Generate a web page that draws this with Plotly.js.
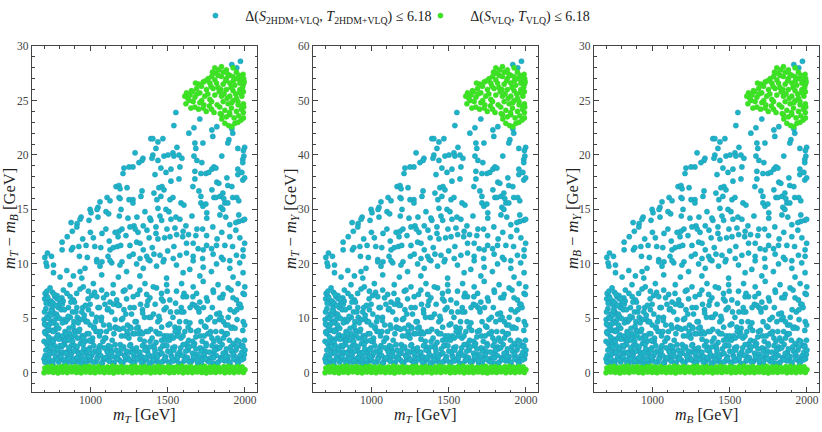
<!DOCTYPE html>
<html>
<head>
<meta charset="utf-8">
<script src="https://cdn.plot.ly/plotly-3.0.1.min.js"></script>
<style>
  html, body { margin: 0; padding: 0; background: #fff; }
  #chart { width: 822px; height: 432px; }
</style>
</head>
<body>
<div id="chart"></div>
<script>
// each point: [m_T (or m_B) GeV, m_T - m_B (= m_B - m_Y) GeV, m_T - m_Y GeV]
var cyanHigh = [
  [1971,28.6,57.2],[1915,28.3,56.6],[1947,28.0,56.0],[1553,23.9,47.8],[1540,22.7,45.4],[1708,23.3,46.6],
  [1670,22.5,45.0],[1637,22.0,44.0],[1786,22.3,44.6],[1792,21.7,43.4],[1818,22.6,45.2],[1915,22.4,44.8],
  [1921,22.0,44.0],[1896,21.4,42.8],[1391,21.5,43.0],[1404,21.5,43.0],[1469,21.5,43.0],[1437,21.2,42.4],
  [1424,20.6,41.2],[1560,20.7,41.4],[1676,21.1,42.2],[1682,20.6,41.2],[1728,21.1,42.2],[1889,21.1,42.2],
  [1998,20.7,41.4],[1990,20.4,40.8],[1954,20.6,41.2],[1289,20.2,40.4],[1340,19.7,39.4],[1334,19.5,39.0],
  [1404,20.0,40.0],[1398,19.7,39.4],[1476,19.9,39.8],[1502,20.0,40.0],[1534,20.2,40.4],[1540,19.9,39.8],
  [1573,20.0,40.0],[1592,19.7,39.4],[1670,19.9,39.8],[1689,19.5,39.0],[1721,19.3,38.6],[1850,19.9,39.8],
  [1993,19.9,39.8],[1986,19.6,39.2],[1986,19.3,38.6],[1275,18.9,37.8],[1250,18.9,37.8],[1217,18.8,37.6],
  [1211,18.3,36.6],[1314,19.3,38.6],[1437,19.5,39.0],[1456,18.8,37.6],[1489,18.4,36.8],[1418,18.2,36.4],
  [1521,18.7,37.4],[1521,17.6,35.2],[1579,18.9,37.8],[1573,17.8,35.6],[1676,18.5,37.0],[1676,17.8,35.6],
  [1715,18.3,36.6],[1747,18.3,36.6],[1766,18.4,36.8],[1786,18.7,37.4],[1799,18.9,37.8],[1812,18.8,37.6],
  [1818,17.5,35.0],[1831,17.4,34.8],[1883,17.9,35.8],[1889,17.2,34.4],[1915,17.1,34.2],[1954,18.7,37.4],
  [1954,18.2,36.4],[1980,18.4,36.8],[1986,17.7,35.4],[1998,17.9,35.8],[1166,17.1,34.2],[1185,17.2,34.4],
  [1192,16.9,33.8],[1185,16.1,32.2],[1237,17.0,34.0],[1334,16.7,33.4],[1327,16.2,32.4],[1250,15.9,31.8],
  [1275,15.9,31.8],[1275,15.6,31.2],[1192,16.0,32.0],[1198,15.0,30.0],[1108,16.1,32.2],[1127,15.8,31.6],
  [1062,15.7,31.4],[1049,15.2,30.4],[998,15.0,30.0],[1004,14.7,29.4],[940,14.3,28.6],[933,14.1,28.2],
  [875,13.8,27.6],[914,13.7,27.4],[991,14.0,28.0],[1043,15.0,30.0],[1101,14.8,29.6],[1353,14.8,29.6],
  [1411,16.5,33.0],[1430,15.9,31.8],[1443,17.0,34.0],[1463,17.1,34.2],[1476,16.8,33.6],[1437,15.1,30.2],
  [1489,15.0,30.0],[1508,14.8,29.6],[1456,16.2,32.4],[1515,15.9,31.8],[1534,16.1,32.2],[1586,15.6,31.2],
  [1605,15.4,30.8],[1553,14.3,28.6],[1663,17.1,34.2],[1702,16.7,33.4],[1715,16.2,32.4],[1715,15.6,31.2],
  [1728,15.3,30.6],[1747,15.5,31.0],[1753,14.7,29.4],[1786,16.8,33.6],[1799,16.1,32.2],[1812,16.1,32.2],
  [1838,16.2,32.4],[1857,16.5,33.0],[1863,16.0,32.0],[1870,15.6,31.2],[1844,15.2,30.4],[1857,15.0,30.0],
  [1889,15.6,31.2],[1921,16.1,32.2],[1947,16.1,32.2],[1960,15.8,31.6],[1960,14.5,29.0],[1986,14.0,28.0],
  [1998,14.1,28.2],[1960,13.9,27.8],[1941,13.8,27.6],[1547,13.3,26.6],[1579,14.1,28.2],[1618,13.5,27.0],
  [1657,14.4,28.8],[1689,13.2,26.4],[1753,14.2,28.4],[1792,13.4,26.8],[1838,14.5,29.0],[1876,14.3,28.6],
  [1902,13.6,27.2],[1204,13.2,26.4],[1243,14.2,28.4],[1185,13.0,26.0],[1282,13.5,27.0],[1301,14.3,28.6],
  [1366,13.1,26.2],[1391,14.0,28.0],[1424,13.4,26.8],[1450,14.4,28.8],[1495,13.2,26.4],[1521,14.1,28.2]
];

var cyanMid = [
  [705,10.6,21.2],[722,11.0,22.0],[748,10.7,21.4],[761,9.9,19.8],[718,9.8,19.6],[817,12.0,24.0],
  [817,11.3,22.6],[883,13.0,26.0],[877,11.3,22.6],[886,11.5,23.0],[929,10.7,21.4],[925,11.6,23.2],
  [972,11.7,23.4],[1019,12.4,24.8],[1028,11.6,23.2],[1067,11.5,23.0],[1075,12.8,25.6],[1122,12.1,24.2],
  [1127,11.3,22.6],[1148,11.5,23.0],[980,10.6,21.2],[1041,10.4,20.8],[1075,10.2,20.4],[1114,10.7,21.4],
  [1138,10.1,20.2],[1179,12.5,25.0],[1174,11.6,23.2],[1196,11.7,23.4],[1204,10.2,20.4],[1256,11.7,23.4],
  [1299,12.0,24.0],[1321,11.9,23.8],[1342,11.3,22.6],[1252,10.7,21.4],[1277,10.9,21.8],[1321,10.5,21.0],
  [1364,10.7,21.4],[1385,10.3,20.6],[1411,10.9,21.8],[1450,10.8,21.6],[1476,10.4,20.8],[1437,12.3,24.6],
  [1480,12.4,24.8],[1515,12.5,25.0],[1558,12.7,25.4],[1597,12.5,25.0],[1622,11.9,23.8],[1635,12.7,25.4],
  [1682,12.6,25.2],[1726,13.2,26.4],[1752,12.6,25.2],[1665,11.9,23.8],[1697,11.4,22.8],[1730,11.3,22.6],
  [1752,11.7,23.4],[1784,11.4,22.8],[1816,11.7,23.4],[1870,11.7,23.4],[1902,12.5,25.0],[1941,13.1,26.2],
  [1967,12.4,24.8],[1998,11.9,23.8],[1988,11.3,22.6],[1536,10.5,21.0],[1579,10.8,21.6],[1622,11.0,22.0],
  [1665,10.7,21.4],[1726,10.5,21.0],[1794,10.9,21.8],[1848,10.6,21.2],[1902,10.3,20.6],[1945,10.8,21.6],
  [1988,10.7,21.4],[912,13.4,26.8],[1049,14.3,28.6],[1118,14.6,29.2],[1187,14.4,28.8],[1256,13.4,26.8],
  [1308,12.9,25.8],[1342,13.5,27.0],[1385,14.2,28.4],[1424,12.8,25.6],[1461,14.0,28.0],[1000,12.9,25.8],
  [1160,12.9,25.8],[1230,12.6,25.2],[1380,12.4,24.8],[1400,11.5,23.0],[1540,11.6,23.2],[1600,13.0,26.0],
  [1850,12.9,25.8],[1920,11.6,23.2],[1820,12.3,24.6],[1500,11.2,22.4],[1100,13.2,26.4],[850,12.5,25.0],
  [950,12.3,24.6],[1290,13.2,26.4]
];

var cyanBand9 = [
  [713,10.1,20.2],[761,9.2,18.4],[804,8.8,17.6],[847,9.4,18.8],[890,8.9,17.8],[933,9.3,18.6],
  [944,8.7,17.4],[965,9.6,19.2],[1041,10.2,20.4],[1062,9.8,19.6],[1073,9.0,18.0],[1127,10.3,20.6],
  [1181,8.8,17.6],[1191,9.9,19.8],[1234,9.3,18.6],[1299,10.0,20.0],[1320,8.9,17.8],[1342,9.6,19.2],
  [1374,10.4,20.8],[1428,9.8,19.6],[1471,10.2,20.4],[1493,8.7,17.4],[1557,9.9,19.8],[1600,9.2,18.4],
  [1643,9.5,19.0],[1665,10.3,20.6],[1708,8.9,17.8],[1730,9.7,19.4],[1783,9.3,18.6],[1816,10.0,20.0],
  [1859,10.4,20.8],[1902,9.6,19.2],[1923,8.8,17.6],[1966,10.1,20.2],[1988,9.2,18.4]
];

var cyanBand7 = [
  [707,7.3,14.6],[739,7.8,15.6],[771,7.0,14.0],[825,7.6,15.2],[868,8.1,16.2],[911,7.3,14.6],
  [954,7.9,15.8],[987,7.5,15.0],[1019,8.2,16.4],[1041,7.0,14.0],[1073,7.6,15.2],[1105,7.2,14.4],
  [1148,8.1,16.2],[1170,6.7,13.4],[1213,7.5,15.0],[1256,7.9,15.8],[1277,7.0,14.0],[1320,7.6,15.2],
  [1353,8.2,16.4],[1385,6.9,13.8],[1428,7.8,15.6],[1460,7.3,14.6],[1493,8.1,16.2],[1514,6.7,13.4],
  [1557,7.5,15.0],[1590,8.2,16.4],[1622,7.0,14.0],[1665,7.9,15.8],[1687,7.3,14.6],[1730,8.4,16.8],
  [1751,6.9,13.8],[1794,7.6,15.2],[1826,8.1,16.2],[1859,7.2,14.4],[1891,7.8,15.6],[1923,6.9,13.8],
  [1956,8.2,16.4],[1988,7.3,14.6],[1999,7.9,15.8],[718,6.6,13.2],[815,6.9,13.8],[890,6.7,13.4],
  [1008,7.1,14.2],[1127,6.5,13.0],[1234,6.8,13.6],[1364,7.2,14.4],[1471,6.6,13.2],[1600,7.0,14.0],
  [1708,6.5,13.0],[1837,6.9,13.8],[1945,6.7,13.4],[720,7.0,14.0],[755,7.4,14.8],[785,6.8,13.6]
];

var cyanBand5 = [
  [701,4.9,9.8],[709,4.4,8.8],[718,5.1,10.2],[724,4.4,8.8],[733,5.4,10.8],[740,6.3,12.6],
  [749,4.7,9.4],[757,5.6,11.2],[766,5.4,10.8],[771,4.9,9.8],[780,5.4,10.8],[792,6.0,12.0],
  [799,6.3,12.6],[811,5.8,11.6],[818,6.3,12.6],[829,4.9,9.8],[840,4.7,9.4],[851,4.9,9.8],
  [858,6.0,12.0],[870,5.1,10.2],[884,5.6,11.2],[893,4.7,9.4],[906,5.6,11.2],[915,5.1,10.2],
  [929,4.9,9.8],[937,4.9,9.8],[950,6.0,12.0],[962,4.9,9.8],[971,4.7,9.4],[987,5.8,11.6],
  [998,6.3,12.6],[1009,5.4,10.8],[1024,4.2,8.4],[1033,4.7,9.4],[1049,6.0,12.0],[1058,6.0,12.0],
  [1072,5.1,10.2],[1086,4.4,8.8],[1094,6.3,12.6],[1110,5.8,11.6],[1121,4.4,8.8],[1137,5.6,11.2],
  [1149,6.3,12.6],[1160,4.9,9.8],[1176,6.3,12.6],[1188,6.2,12.4],[1201,4.9,9.8],[1217,5.8,11.6],
  [1229,5.4,10.8],[1240,4.4,8.8],[1258,4.2,8.4],[1266,5.4,10.8],[1283,6.0,12.0],[1297,4.7,9.4],
  [1309,4.2,8.4],[1324,6.3,12.6],[1337,5.8,11.6],[1350,5.1,10.2],[1366,6.2,12.4],[1379,5.1,10.2],
  [1391,5.1,10.2],[1408,5.4,10.8],[1419,6.3,12.6],[1436,4.7,9.4],[1448,4.9,9.8],[1461,4.2,8.4],
  [1477,5.8,11.6],[1490,6.0,12.0],[1503,4.4,8.8],[1518,5.6,11.2],[1534,5.1,10.2],[1547,4.2,8.4],
  [1560,5.6,11.2],[1577,4.7,9.4],[1588,6.0,12.0],[1604,5.6,11.2],[1619,4.7,9.4],[1633,4.2,8.4],
  [1645,6.0,12.0],[1660,6.3,12.6],[1676,6.2,12.4],[1689,6.0,12.0],[1703,5.6,11.2],[1716,4.7,9.4],
  [1732,6.0,12.0],[1747,4.2,8.4],[1760,4.9,9.8],[1776,5.1,10.2],[1789,6.0,12.0],[1805,4.7,9.4],
  [1817,5.4,10.8],[1834,4.9,9.8],[1846,5.1,10.2],[1861,4.7,9.4],[1875,4.4,8.8],[1890,4.4,8.8],
  [1904,5.8,11.6],[1919,4.2,8.4],[1931,5.6,11.2],[1948,5.8,11.6],[1960,6.3,12.6],[1975,6.0,12.0],
  [1989,4.7,9.4],[1998,4.4,8.8],[712,5.9,11.8],[730,5.0,10.0],[745,6.6,13.2],[762,4.6,9.2],
  [786,5.2,10.4],[703,5.6,11.2],[737,4.5,9.0],[752,5.9,11.8]
];

var cyanBand3 = [
  [700,2.9,5.8],[706,3.8,7.6],[715,2.7,5.4],[722,3.9,7.8],[729,2.9,5.8],[738,3.9,7.8],
  [744,2.7,5.4],[753,3.9,7.8],[760,2.9,5.8],[769,3.9,7.8],[777,3.2,6.4],[786,3.4,6.8],
  [795,4.1,8.2],[803,2.5,5.0],[810,3.2,6.4],[821,3.4,6.8],[830,2.9,5.8],[838,3.0,6.0],
  [849,3.4,6.8],[857,3.0,6.0],[866,3.6,7.2],[877,2.5,5.0],[885,2.9,5.8],[896,3.9,7.8],
  [905,3.8,7.6],[917,3.2,6.4],[925,3.8,7.6],[936,2.7,5.4],[946,3.0,6.0],[958,3.4,6.8],
  [967,2.9,5.8],[979,3.6,7.2],[990,3.6,7.2],[1001,2.9,5.8],[1014,3.2,6.4],[1023,4.1,8.2],
  [1036,3.8,7.6],[1047,3.8,7.6],[1059,3.4,6.8],[1068,3.8,7.6],[1081,2.9,5.8],[1093,3.2,6.4],
  [1104,3.8,7.6],[1117,2.5,5.0],[1128,4.1,8.2],[1141,3.0,6.0],[1152,3.6,7.2],[1165,4.1,8.2],
  [1177,4.1,8.2],[1188,4.0,8.0],[1201,3.4,6.8],[1213,4.1,8.2],[1226,3.4,6.8],[1238,3.8,7.6],
  [1249,3.2,6.4],[1263,4.1,8.2],[1274,3.6,7.2],[1287,3.6,7.2],[1299,4.1,8.2],[1312,3.6,7.2],
  [1324,3.8,7.6],[1337,3.6,7.2],[1349,2.9,5.8],[1361,3.8,7.6],[1374,3.8,7.6],[1386,2.9,5.8],
  [1399,3.2,6.4],[1411,2.5,5.0],[1424,3.8,7.6],[1436,3.6,7.2],[1449,3.6,7.2],[1461,3.0,6.0],
  [1474,2.5,5.0],[1486,3.0,6.0],[1499,3.4,6.8],[1511,3.0,6.0],[1524,3.4,6.8],[1536,3.2,6.4],
  [1549,3.8,7.6],[1561,3.4,6.8],[1574,4.1,8.2],[1586,3.2,6.4],[1599,3.4,6.8],[1611,3.8,7.6],
  [1624,2.7,5.4],[1636,3.0,6.0],[1649,3.9,7.8],[1661,2.9,5.8],[1674,2.7,5.4],[1686,3.8,7.6],
  [1699,3.9,7.8],[1711,3.4,6.8],[1724,2.9,5.8],[1736,3.4,6.8],[1749,2.7,5.4],[1761,3.6,7.2],
  [1774,3.6,7.2],[1786,3.2,6.4],[1799,2.9,5.8],[1811,3.8,7.6],[1824,3.2,6.4],[1836,2.9,5.8],
  [1849,3.8,7.6],[1861,3.2,6.4],[1874,3.6,7.2],[1886,3.6,7.2],[1899,3.0,6.0],[1911,4.1,8.2],
  [1924,2.7,5.4],[1936,4.1,8.2],[1949,3.0,6.0],[1961,2.9,5.8],[1974,2.5,5.0],[1986,2.5,5.0],
  [1997,3.0,6.0]
];

var cyanBand1 = [
  [700,1.3,2.6],[712,2.1,4.2],[721,0.9,1.8],[733,1.7,3.4],[742,2.4,4.8],[755,1.1,2.2],
  [763,1.9,3.8],[774,1.4,2.8],[786,2.2,4.4],[795,1.0,2.0],[807,1.6,3.2],[816,2.5,5.0],
  [828,1.2,2.4],[839,1.8,3.6],[848,0.9,1.8],[860,2.3,4.6],[871,1.5,3.0],[880,1.0,2.0],
  [893,2.0,4.0],[902,1.3,2.6],[914,2.4,4.8],[925,1.7,3.4],[934,1.1,2.2],[946,1.9,3.8],
  [957,2.2,4.4],[968,0.9,1.8],[979,1.5,3.0],[990,2.1,4.2],[1001,1.2,2.4],[1013,1.8,3.6],
  [1022,2.5,5.0],[1034,1.0,2.0],[1045,1.4,2.8],[1056,2.0,4.0],[1067,1.6,3.2],[1078,0.9,1.8],
  [1089,2.3,4.6],[1101,1.3,2.6],[1110,1.9,3.8],[1122,1.1,2.2],[1133,2.4,4.8],[1144,1.5,3.0],
  [1155,1.0,2.0],[1166,2.1,4.2],[1178,1.7,3.4],[1187,1.2,2.4],[1199,2.2,4.4],[1210,0.9,1.8],
  [1221,1.6,3.2],[1232,2.0,4.0],[1243,1.4,2.8],[1255,2.5,5.0],[1264,1.1,2.2],[1276,1.8,3.6],
  [1287,1.0,2.0],[1298,2.3,4.6],[1309,1.3,2.6],[1320,1.9,3.8],[1332,1.5,3.0],[1341,0.9,1.8],
  [1353,2.1,4.2],[1364,1.2,2.4],[1375,1.7,3.4],[1386,2.4,4.8],[1397,1.0,2.0],[1409,1.6,3.2],
  [1418,2.0,4.0],[1430,1.3,2.6],[1441,0.9,1.8],[1452,2.2,4.4],[1463,1.8,3.6],[1474,1.1,2.2],
  [1486,1.5,3.0],[1495,2.5,5.0],[1507,1.0,2.0],[1518,1.9,3.8],[1529,1.4,2.8],[1540,2.1,4.2],
  [1551,1.2,2.4],[1563,1.7,3.4],[1572,0.9,1.8],[1584,2.3,4.6],[1595,1.6,3.2],[1606,1.1,2.2],
  [1617,2.0,4.0],[1628,1.4,2.8],[1640,2.4,4.8],[1649,1.0,2.0],[1661,1.8,3.6],[1672,1.3,2.6],
  [1683,2.2,4.4],[1694,0.9,1.8],[1705,1.5,3.0],[1717,2.0,4.0],[1726,1.2,2.4],[1738,1.7,3.4],
  [1749,2.5,5.0],[1760,1.1,2.2],[1771,1.9,3.8],[1782,1.4,2.8],[1794,0.9,1.8],[1803,2.1,4.2],
  [1815,1.6,3.2],[1826,1.0,2.0],[1837,2.3,4.6],[1848,1.3,2.6],[1859,1.8,3.6],[1871,1.1,2.2],
  [1880,2.2,4.4],[1892,1.5,3.0],[1903,0.9,1.8],[1914,2.0,4.0],[1925,1.7,3.4],[1936,1.2,2.4],
  [1948,2.4,4.8],[1957,1.0,2.0],[1969,1.6,3.2],[1980,1.9,3.8],[1991,1.3,2.6],[2000,2.1,4.2],
  [705,1.0,2.0],[731,1.3,2.6],[757,0.8,1.6],[783,1.2,2.4],[809,1.5,3.0],[835,0.9,1.8],
  [861,1.3,2.6],[887,1.1,2.2],[913,1.4,2.8],[939,0.8,1.6],[965,1.2,2.4],[991,1.5,3.0],
  [1017,1.0,2.0],[1043,1.3,2.6],[1069,0.9,1.8],[1095,1.4,2.8],[1121,1.1,2.2],[1147,0.8,1.6],
  [1173,1.3,2.6],[1199,1.0,2.0],[1225,1.5,3.0],[1251,1.2,2.4],[1277,0.9,1.8],[1303,1.3,2.6],
  [1329,1.0,2.0],[1355,1.4,2.8],[1381,0.8,1.6],[1407,1.2,2.4],[1433,1.5,3.0],[1459,1.0,2.0],
  [1485,1.3,2.6],[1511,0.9,1.8],[1537,1.1,2.2],[1563,1.4,2.8],[1589,0.8,1.6],[1615,1.2,2.4],
  [1641,1.0,2.0],[1667,1.5,3.0],[1693,1.1,2.2],[1719,0.8,1.6],[1745,1.3,2.6],[1771,1.0,2.0],
  [1797,1.4,2.8],[1823,0.9,1.8],[1849,1.2,2.4],[1875,1.5,3.0],[1901,1.0,2.0],[1927,1.3,2.6],
  [1953,0.8,1.6],[1979,1.2,2.4]
];

var cyanFill = [
  [704,6.8,13.6],[711,3.6,7.2],[719,7.5,15.0],[727,4.2,8.4],[735,2.2,4.4],[743,5.3,10.6],
  [750,3.1,6.2],[758,6.4,12.8],[766,2.0,4.0],[775,4.0,8.0],[784,7.1,14.2],[791,3.5,7.0],
  [800,5.0,10.0],[813,2.4,4.8],[824,6.6,13.2],[836,3.8,7.6],[845,1.9,3.8],[856,5.2,10.4],
  [869,7.0,14.0],[882,3.3,6.6],[897,6.5,13.0],[909,2.3,4.6],[921,4.6,9.2],[933,7.7,15.4],
  [947,3.4,6.8],[960,5.3,10.6],[974,2.1,4.2],[985,6.8,13.6],[999,4.4,8.8],[1012,2.9,5.8],
  [1027,7.4,14.8],[1040,5.1,10.2],[1055,2.3,4.6],[1070,4.8,9.6],[1085,6.9,13.8],[1099,3.2,6.4],
  [1115,5.9,11.8],[1130,2.1,4.2],[1146,7.3,14.6],[1161,4.2,8.4],[1178,6.2,12.4],[1193,2.6,5.2],
  [1209,5.0,10.0],[1224,7.6,15.2],[1240,3.5,7.0],[1257,6.0,12.0],[1272,2.2,4.4],[1289,4.7,9.4],
  [1305,7.2,14.4],[1321,3.1,6.2],[1338,5.5,11.0],[1355,2.4,4.8],[1372,6.6,13.2],[1390,4.0,8.0],
  [1407,7.9,15.8],[1425,2.8,5.6],[1443,5.2,10.4],[1460,6.8,13.6],[1478,3.4,6.8],[1497,7.5,15.0],
  [1514,4.5,9.0],[1532,2.3,4.6],[1551,6.4,12.8],[1569,3.7,7.4],[1588,5.6,11.2],[1606,7.3,14.6],
  [1625,2.5,5.0],[1644,4.6,9.2],[1663,7.0,14.0],[1682,3.3,6.6],[1700,5.9,11.8],[1720,2.2,4.4],
  [1739,4.3,8.6],[1757,6.6,13.2],[1777,3.8,7.6],[1796,7.4,14.8],[1815,2.4,4.8],[1835,5.5,11.0],
  [1853,6.9,13.8],[1872,3.5,7.0],[1892,5.1,10.2],[1910,7.6,15.2],[1930,2.6,5.2],[1949,4.9,9.8],
  [1968,6.3,12.6],[1986,3.9,7.8],[1996,7.2,14.4]
];

var cyanDense = [
  [708,1.6,3.2],[726,2.4,4.8],[738,1.1,2.2],[749,1.8,3.6],[767,2.5,5.0],[779,1.5,3.0],
  [791,2.0,4.0],[803,1.2,2.4],[820,1.9,3.8],[833,2.6,5.2],[851,1.4,2.8],[866,2.1,4.2],
  [876,1.7,3.4],[897,2.5,5.0],[908,1.0,2.0],[920,1.9,3.8],[942,1.5,3.0],[953,2.6,5.2],
  [973,1.8,3.6],[985,1.1,2.2],[996,2.3,4.6],[1008,1.6,3.2],[1029,2.0,4.0],[1050,1.7,3.4],
  [1062,2.5,5.0],[1083,1.2,2.4],[1106,2.1,4.2],[1116,1.5,3.0],[1138,1.9,3.8],[1160,2.6,5.2],
  [1171,1.4,2.8],[1193,1.8,3.6],[1215,2.4,4.8],[1227,1.2,2.4],[1248,1.9,3.8],[1260,2.6,5.2],
  [1282,1.5,3.0],[1293,2.0,4.0],[1314,1.6,3.2],[1337,2.5,5.0],[1347,1.2,2.4],[1369,2.0,4.0],
  [1392,1.5,3.0],[1413,2.3,4.6],[1424,1.1,2.2],[1446,1.7,3.4],[1468,2.5,5.0],[1480,1.3,2.6],
  [1501,2.0,4.0],[1523,1.6,3.2],[1546,2.4,4.8],[1557,1.2,2.4],[1578,1.9,3.8],[1600,2.6,5.2],
  [1611,1.5,3.0],[1633,2.1,4.2],[1656,1.1,2.2],[1667,2.5,5.0],[1688,1.7,3.4],[1710,2.3,4.6],
  [1732,1.5,3.0],[1743,2.0,4.0],[1765,1.3,2.6],[1787,2.5,5.0],[1799,1.8,3.6],[1820,2.2,4.4],
  [1842,1.4,2.8],[1853,2.6,5.2],[1875,1.9,3.8],[1886,1.2,2.4],[1908,2.4,4.8],[1930,1.6,3.2],
  [1942,2.1,4.2],[1963,1.4,2.8],[1985,2.4,4.8],[1996,1.7,3.4],
  [703,4.5,9.0],[714,6.4,12.8],[729,3.3,6.6],[747,5.7,11.4],[759,3.8,7.6],[774,6.2,12.4],
  [781,4.4,8.8],[797,3.1,6.2],[806,6.6,13.2],[819,4.6,9.2],[832,5.8,11.6],[842,3.6,7.2],
  [862,4.1,8.2],[874,6.5,13.0],[888,4.3,8.6],[899,3.5,7.0],[912,6.0,12.0],[930,4.0,8.0],
  [944,5.6,11.2],[956,3.2,6.4],[968,6.2,12.4],[982,4.7,9.4],[994,3.0,6.0],[724,6.9,13.8],
  [765,7.2,14.4],[798,6.8,13.6],[848,7.3,14.6],[705,3.7,7.4]
];

var greenCap = [
  [1805,28.0,56.0],[1848,28.1,56.2],[1880,27.8,55.6],[1923,28.0,56.0],[1945,27.6,55.2],[1902,27.3,54.6],
  [1827,27.3,54.6],[1784,27.2,54.4],[1762,27.0,54.0],[1805,26.9,53.8],[1848,27.2,54.4],[1880,27.0,54.0],
  [1923,27.2,54.4],[1962,27.3,54.6],[1988,27.4,54.8],[1992,27.0,54.0],[1977,26.9,53.8],[1730,26.7,53.4],
  [1773,26.6,53.2],[1816,26.6,53.2],[1859,26.5,53.0],[1902,26.6,53.2],[1934,26.4,52.8],[1967,26.6,53.2],
  [1990,26.5,53.0],[1995,26.7,53.4],[1622,25.7,51.4],[1654,25.9,51.8],[1687,26.1,52.2],[1719,26.3,52.6],
  [1751,26.0,52.0],[1794,26.1,52.2],[1833,25.8,51.6],[1880,26.0,52.0],[1923,25.9,51.8],[1967,26.0,52.0],
  [1990,25.8,51.6],[1611,25.4,50.8],[1644,25.5,51.0],[1676,25.3,50.6],[1708,25.7,51.4],[1740,25.4,50.8],
  [1773,25.1,50.2],[1805,25.5,51.0],[1848,25.4,50.8],[1902,25.4,50.8],[1945,25.2,50.4],[1980,25.4,50.8],
  [1618,24.7,49.4],[1665,24.9,49.8],[1708,24.8,49.6],[1734,24.6,49.2],[1784,24.9,49.8],[1859,24.9,49.8],
  [1891,24.7,49.4],[1923,25.0,50.0],[1956,24.6,49.2],[1990,24.7,49.4],[1676,24.4,48.8],[1730,24.3,48.6],
  [1784,24.2,48.4],[1837,24.4,48.8],[1870,24.1,48.2],[1913,24.3,48.6],[1945,24.0,48.0],[1977,24.2,48.4],
  [1848,23.7,47.4],[1902,23.7,47.4],[1990,23.9,47.8],[1992,24.4,48.8],[1850,23.3,46.6],[1870,22.9,45.8],
  [1895,22.7,45.4],[1915,22.6,45.2],[1935,22.9,45.8],[1955,23.0,46.0],[1975,23.2,46.4],[1880,23.5,47.0],
  [1930,23.4,46.8],[1960,23.6,47.2],[1990,23.4,46.8],[1840,23.8,47.6],[1900,23.9,47.8],[1640,25.0,50.0],
  [1660,25.8,51.6],[1690,25.6,51.2],[1700,26.5,53.0],[1720,25.0,50.0],[1745,26.8,53.6],[1760,25.6,51.2],
  [1780,26.3,52.6],[1790,27.6,55.2],[1810,27.5,55.0],[1825,26.2,52.4],[1830,27.8,55.6],[1845,26.0,52.0],
  [1860,27.6,55.2],[1865,25.6,51.2],[1875,26.8,53.6],[1885,25.2,50.4],[1890,27.4,54.8],[1910,26.2,52.4],
  [1915,24.8,49.6],[1925,26.8,53.6],[1940,25.6,51.2],[1950,27.0,54.0],[1955,24.9,49.8],[1965,25.7,51.4],
  [1975,27.1,54.2],[1985,26.2,52.4],[1985,24.5,49.0],[1820,24.6,49.2],[1800,23.9,47.8],[1770,24.5,49.0],
  [1750,24.0,48.0],[1700,24.2,48.4],[1650,24.3,48.6],[1630,25.2,50.4],[1680,26.6,53.2]
];

var greenFloor = [
  [700,0.02,0.04],[730,0.09,0.18],[760,0.05,0.10],[790,0.00,0.00],[820,0.07,0.14],[850,0.03,0.06],
  [880,0.10,0.20],[910,0.04,0.08],[940,0.01,0.02],[970,0.08,0.16],[1000,0.05,0.10],[1030,0.02,0.04],
  [1060,0.09,0.18],[1090,0.03,0.06],[1120,0.06,0.12],[1150,0.00,0.00],[1180,0.08,0.16],[1210,0.04,0.08],
  [1240,0.10,0.20],[1270,0.02,0.04],[1300,0.06,0.12],[1330,0.03,0.06],[1360,0.09,0.18],[1390,0.01,0.02],
  [1420,0.07,0.14],[1450,0.04,0.08],[1480,0.10,0.20],[1510,0.02,0.04],[1540,0.05,0.10],[1570,0.08,0.16],
  [1600,0.01,0.02],[1630,0.06,0.12],[1660,0.03,0.06],[1690,0.09,0.18],[1720,0.04,0.08],[1750,0.00,0.00],
  [1780,0.07,0.14],[1810,0.05,0.10],[1840,0.10,0.20],[1870,0.02,0.04],[1900,0.06,0.12],[1930,0.03,0.06],
  [1960,0.08,0.16],[1990,0.04,0.08],
  [712,0.30,0.60],[745,0.27,0.54],[771,0.34,0.68],[803,0.29,0.58],[832,0.36,0.72],[861,0.26,0.52],
  [894,0.32,0.64],[922,0.28,0.56],[951,0.35,0.70],[983,0.30,0.60],[1012,0.27,0.54],[1041,0.33,0.66],
  [1073,0.29,0.58],[1102,0.36,0.72],[1131,0.31,0.62],[1163,0.26,0.52],[1192,0.34,0.68],[1221,0.28,0.56],
  [1253,0.32,0.64],[1282,0.27,0.54],[1311,0.35,0.70],[1343,0.30,0.60],[1372,0.26,0.52],[1401,0.33,0.66],
  [1433,0.29,0.58],[1462,0.36,0.72],[1491,0.31,0.62],[1523,0.27,0.54],[1552,0.34,0.68],[1581,0.28,0.56],
  [1613,0.32,0.64],[1642,0.26,0.52],[1671,0.35,0.70],[1703,0.30,0.60],[1732,0.27,0.54],[1761,0.33,0.66],
  [1793,0.29,0.58],[1822,0.36,0.72],[1851,0.31,0.62],[1883,0.26,0.52],[1912,0.34,0.68],[1941,0.28,0.56],
  [1973,0.32,0.64],[2000,0.30,0.60],
  [723,0.55,1.10],[751,0.60,1.20],[783,0.52,1.04],[812,0.58,1.16],[841,0.62,1.24],[873,0.54,1.08],
  [902,0.59,1.18],[931,0.51,1.02],[963,0.57,1.14],[992,0.61,1.22],[1021,0.53,1.06],[1053,0.58,1.16],
  [1082,0.50,1.00],[1111,0.56,1.12],[1143,0.62,1.24],[1172,0.54,1.08],[1201,0.59,1.18],[1233,0.52,1.04],
  [1262,0.57,1.14],[1291,0.61,1.22],[1323,0.53,1.06],[1352,0.58,1.16],[1381,0.50,1.00],[1413,0.56,1.12],
  [1442,0.60,1.20],[1471,0.54,1.08],[1503,0.59,1.18],[1532,0.51,1.02],[1561,0.57,1.14],[1593,0.62,1.24],
  [1622,0.53,1.06],[1651,0.58,1.16],[1683,0.52,1.04],[1712,0.56,1.12],[1741,0.61,1.22],[1773,0.54,1.08],
  [1802,0.59,1.18],[1831,0.51,1.02],[1863,0.57,1.14],[1892,0.60,1.20],[1921,0.53,1.06],[1953,0.58,1.16],
  [1982,0.55,1.10],[705,0.45,0.90]
];

var legendLabels = [
  '\u2002\u2009Δ(<i>S</i><sub>2HDM+VLQ</sub>, <i>T</i><sub>2HDM+VLQ</sub>) ≤ 6.18',
  '\u2002\u2009Δ(<i>S</i><sub>VLQ</sub>, <i>T</i><sub>VLQ</sub>) ≤ 6.18'
];
var xTitles = ['<i>m</i><sub><i>T</i></sub> [GeV]', '<i>m</i><sub><i>T</i></sub> [GeV]', '<i>m</i><sub><i>B</i></sub> [GeV]'];
var yTitles = [
  '<i>m</i><sub><i>T</i></sub> − <i>m</i><sub><i>B</i></sub> [GeV]',
  '<i>m</i><sub><i>T</i></sub> − <i>m</i><sub><i>Y</i></sub> [GeV]',
  '<i>m</i><sub><i>B</i></sub> − <i>m</i><sub><i>Y</i></sub> [GeV]'
];

var cyanAll = [].concat(cyanHigh, cyanMid, cyanBand9, cyanBand7, cyanBand5, cyanFill, cyanBand3, cyanDense, cyanBand1);
var greenAll = [].concat(greenCap, greenFloor);

function col(arr, i) {
  return arr.map(function(p) { return p[i]; });
}

var cyanMarker = {size: 5.2, color: '#1bb5c3', line: {color: '#2a92c4', width: 0.5}};
var greenMarker = {size: 5.2, color: '#38e61f', line: {color: '#52c63d', width: 0.4}};

// panel -> which value column is on the y axis
var yCols = [1, 2, 1];
var data = [];
for (var k = 0; k < 3; k++) {
  var sfx = k === 0 ? '' : String(k + 1);
  data.push({
    x: col(cyanAll, 0), y: col(cyanAll, yCols[k]),
    type: 'scatter', mode: 'markers', marker: cyanMarker,
    name: legendLabels[0], showlegend: k === 0, legendgroup: 'a',
    xaxis: 'x' + sfx, yaxis: 'y' + sfx, hoverinfo: 'skip'
  });
  data.push({
    x: col(greenAll, 0), y: col(greenAll, yCols[k]),
    type: 'scatter', mode: 'markers', marker: greenMarker,
    name: legendLabels[1], showlegend: k === 0, legendgroup: 'b',
    xaxis: 'x' + sfx, yaxis: 'y' + sfx, hoverinfo: 'skip'
  });
}

function axis(extra) {
  var base = {
    showline: true, mirror: 'allticks', linecolor: '#444', linewidth: 1.3,
    ticks: 'inside', ticklen: 5, tickwidth: 1, tickcolor: '#444',
    showgrid: false, zeroline: false, automargin: false,
    tickfont: {size: 11.5, color: '#444'}
  };
  for (var key in extra) base[key] = extra[key];
  return base;
}

var xDomains = [[32 / 822, 257 / 822], [313 / 822, 538 / 822], [594 / 822, 819 / 822]];
var yDomain = [40 / 432, 386 / 432];
var yTitleX = [10, 291, 573];

var layout = {
  width: 822, height: 432,
  margin: {l: 0, r: 0, t: 0, b: 0},
  paper_bgcolor: '#fff', plot_bgcolor: '#fff',
  font: {family: '"Liberation Serif", "DejaVu Serif", serif', color: '#222'},
  showlegend: true,
  legend: {
    orientation: 'h', x: 0.5115, xanchor: 'center', y: 1.0, yanchor: 'top',
    font: {size: 14, color: '#222'}, entrywidth: 180, entrywidthmode: 'pixels'
  },
  annotations: []
};

var yRanges = [[-1.75, 30], [-3.5, 60], [-1.75, 30]];
var yDticks = [5, 10, 5];
for (var j = 0; j < 3; j++) {
  var s = j === 0 ? '' : String(j + 1);
  layout['xaxis' + s] = axis({
    domain: xDomains[j], anchor: 'y' + s, range: [622, 2078], ticklabelstandoff: -3,
    tick0: 0, dtick: 500, minor: {ticks: 'inside', ticklen: 2.5, dtick: 100, tickcolor: '#444'}
  });
  layout['yaxis' + s] = axis({
    domain: yDomain, anchor: 'x' + s, range: yRanges[j],
    tick0: 0, dtick: yDticks[j], minor: {ticks: 'inside', ticklen: 2.5, dtick: yDticks[j] / 5, tickcolor: '#444'}
  });
  layout.annotations.push({
    text: xTitles[j], xref: 'paper', yref: 'paper', showarrow: false,
    x: (xDomains[j][0] + xDomains[j][1]) / 2, y: 1 - 415 / 432,
    xanchor: 'center', yanchor: 'middle', font: {size: 16, color: '#222'}
  });
  layout.annotations.push({
    text: yTitles[j], xref: 'paper', yref: 'paper', showarrow: false, textangle: -90,
    x: yTitleX[j] / 822, y: 1 - 219 / 432,
    xanchor: 'center', yanchor: 'middle', font: {size: 16.5, color: '#222'}
  });
}

Plotly.newPlot('chart', data, layout, {displayModeBar: false, staticPlot: true});
</script>
</body>
</html>
